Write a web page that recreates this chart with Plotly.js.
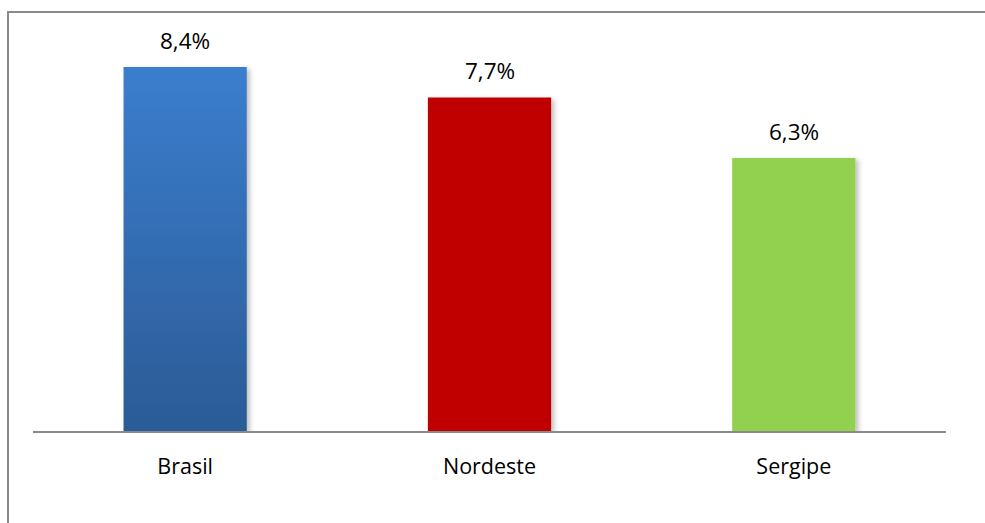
<!DOCTYPE html>
<html>
<head>
<meta charset="utf-8">
<script src="https://cdn.plot.ly/plotly-3.0.1.min.js"></script>
<style>
html,body{margin:0;padding:0;background:#fff;overflow:hidden;}
#wrap{position:relative;width:985px;height:523px;}
#chart{position:absolute;left:0;top:0;width:985px;height:523px;}
#frame{position:absolute;left:7px;top:11px;width:1100px;height:700px;border-left:2px solid #8a8a8a;border-top:2px solid #8a8a8a;pointer-events:none;}
</style>
</head>
<body>
<div id="wrap"><div id="chart"></div><div id="frame"></div></div>
<script>
const categories = ["Brasil", "Nordeste", "Sergipe"];
const values = [8.4, 7.7, 6.3];
const labels = ["8,4%", "7,7%", "6,3%"];
const colors = ["#3672BB", "#C00000", "#92D050"];

const trace = {
  type: "bar",
  x: categories,
  y: values,
  marker: {color: colors, line: {width: 0}},
  hoverinfo: "none"
};

const annotations = categories.map((c, i) => ({
  x: c, y: values[i], xref: "x", yref: "y",
  text: labels[i], showarrow: false,
  yanchor: "bottom", yshift: 9,
  font: {family: "Open Sans, Liberation Sans, sans-serif", size: 22.5, color: "#000"}
}));

const layout = {
  width: 985, height: 523,
  margin: {l: 33, r: 39, t: 22, b: 92},
  paper_bgcolor: "#fff", plot_bgcolor: "#fff",
  bargap: 0.595,
  showlegend: false,
  xaxis: {
    showline: true, linecolor: "#8a8a8a", linewidth: 2,
    ticks: "outside", ticklen: 15, tickcolor: "rgba(0,0,0,0)",
    tickfont: {family: "Open Sans, Liberation Sans, sans-serif", size: 21.5, color: "#000"},
    showgrid: false, zeroline: false, fixedrange: true
  },
  yaxis: {
    range: [0, 9.44], visible: false, showgrid: false, zeroline: false, fixedrange: true
  },
  annotations: annotations
};

Plotly.newPlot("chart", [trace], layout, {displayModeBar: false, staticPlot: true}).then(() => {
  const svg = document.querySelector("#chart svg.main-svg");
  const ns = "http://www.w3.org/2000/svg";
  const defs = document.createElementNS(ns, "defs");
  defs.innerHTML =
    '<linearGradient id="blueGrad" x1="0" y1="0" x2="0" y2="1">' +
    '<stop offset="0" stop-color="#3B7ECE"/>' +
    '<stop offset="1" stop-color="#2B5B96"/>' +
    '</linearGradient>' +
    '<filter id="shadow" x="-10%" y="-10%" width="130%" height="130%">' +
    '<feDropShadow dx="3" dy="2" stdDeviation="2.5" flood-color="#000" flood-opacity="0.25"/>' +
    '</filter>';
  svg.insertBefore(defs, svg.firstChild);
  const paths = document.querySelectorAll("#chart .bars .point path");
  paths.forEach((p, i) => {
    p.setAttribute("filter", "url(#shadow)");
    if (i === 0) p.style.fill = "url(#blueGrad)";
  });
});
</script>
</body>
</html>
